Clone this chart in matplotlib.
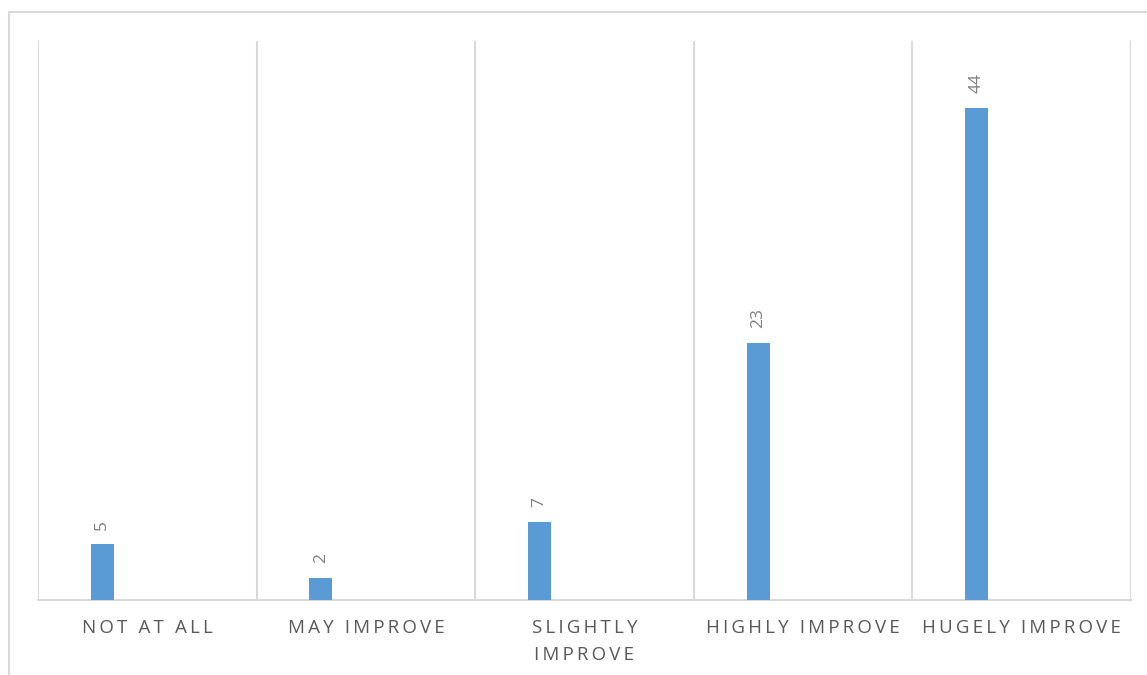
import matplotlib.pyplot as plt
from matplotlib.patches import Rectangle

categories = ["NOT AT ALL", "MAY IMPROVE", "SLIGHTLY\nIMPROVE", "HIGHLY IMPROVE", "HUGELY IMPROVE"]
responses = [5, 2, 7, 23, 44]


def spaced(text):
    # widen tracking by putting thin spaces between the letters
    lines = []
    for line in text.split("\n"):
        lines.append("\u2009".join(line))
    return "\n".join(lines)


def main():
    plt.rcParams["font.family"] = ["Open Sans", "DejaVu Sans"]
    fig = plt.figure(figsize=(11.47, 6.75), dpi=100)

    # outer chart frame (runs off the right and bottom edges)
    fig.patches.append(Rectangle((9 / 1147, -0.1), 1.2, 1.1 - 12 / 675,
                                 transform=fig.transFigure, fill=False,
                                 edgecolor="#d9d9d9", linewidth=1.5))

    ax = fig.add_axes([38 / 1147, 75 / 675, 1093 / 1147, 559 / 675])
    x = range(len(categories))
    offset = -0.206
    bars = ax.bar([i + offset for i in x], responses, width=0.105,
                  color="#5b9bd5", zorder=3)

    for bar, value in zip(bars, responses):
        ax.annotate(str(value),
                    (bar.get_x() + bar.get_width() / 2, bar.get_height()),
                    xytext=(0, 10.5), textcoords="offset points",
                    rotation=90, ha="center", va="bottom",
                    fontsize=12.5, color="#808080")

    ax.set_xlim(-0.5, len(categories) - 0.5)
    ax.set_ylim(0, 50)
    for b in range(len(categories) + 1):
        ax.axvline(b - 0.5, color="#d9d9d9", linewidth=1.5, zorder=1)

    for side in ["top", "left", "right"]:
        ax.spines[side].set_visible(False)
    ax.spines["bottom"].set_color("#d9d9d9")
    ax.spines["bottom"].set_linewidth(1.5)

    ax.set_yticks([])
    ax.set_xticks(list(x))
    ax.set_xticklabels([spaced(c) for c in categories], fontsize=13.5,
                       color="#595959", linespacing=1.6, va="top")
    ax.tick_params(axis="x", length=0, pad=14)

    fig.savefig("out.png", dpi=100)


if __name__ == "__main__":
    main()
